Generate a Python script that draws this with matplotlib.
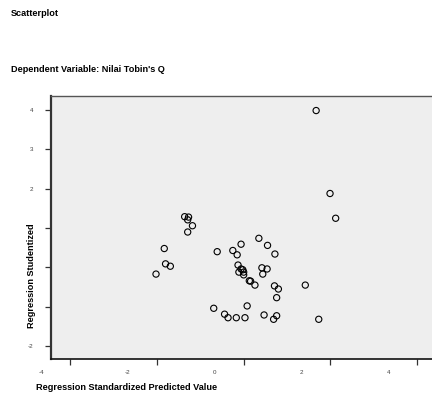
import matplotlib
matplotlib.use("Agg")
import matplotlib.pyplot as plt
from matplotlib.transforms import ScaledTranslation

predicted = [1.67, 1.99, 2.12, -1.36, -1.27, -1.29, -1.18, -1.29, -1.83, -1.80,
             -1.69, -2.02, -0.61, -0.25, -0.15, -0.06, 0.35, 0.55, 0.72, -0.13,
             -0.06, -0.02, -0.11, 0.00, 0.00, 0.42, 0.54, 0.44, 0.13, 0.16,
             0.26, 0.71, 0.80, 0.76, 1.42, -0.69, 0.08, -0.44, -0.36, -0.17,
             0.03, 0.47, 0.69, 0.76, 1.73]
residual = [3.99, 1.88, 1.25, 1.29, 1.28, 1.21, 1.06, 0.90, 0.48, 0.09,
            0.03, -0.17, 0.40, 0.43, 0.32, 0.59, 0.74, 0.56, 0.34, 0.06,
            -0.04, -0.06, -0.12, -0.12, -0.19, -0.01, -0.04, -0.17, -0.34, -0.35,
            -0.45, -0.47, -0.55, -0.77, -0.45, -1.04, -0.98, -1.19, -1.28, -1.28,
            -1.28, -1.21, -1.32, -1.23, -1.32]

xticks = [-4, -2, 0, 2, 4]
xtick_labels = ["-4", "-2", "0", "2", "4"]
yticks = [4, 3, 2, 1, 0, -1, -2]
ytick_labels = ["4", "3", "2", "", "", "", "-2"]

title_text = "Scatterplot"
subtitle_text = "Dependent Variable: Nilai Tobin's Q"
xlabel_text = "Regression Standardized Predicted Value"
ylabel_text = "Regression Studentized"

plt.rcParams['font.family'] = ['Liberation Sans', 'DejaVu Sans']

W, H = 432, 396
fig = plt.figure(figsize=(W / 100, H / 100), dpi=100)
fig.patch.set_facecolor("white")

left_px, right_px, top_px, bottom_px = 51, 432, 96, 359
ax = fig.add_axes([left_px / W, 1 - bottom_px / H,
                   (right_px - left_px) / W, (bottom_px - top_px) / H])
ax.set_facecolor("#eeeeee")

ax.scatter(predicted, residual, s=20, facecolors="none", edgecolors="black",
           linewidths=0.8, zorder=3)

ax.set_xlim(-4.44, 4.34)
ax.set_ylim(-2.33, 4.36)

ax.set_xticks(xticks)
ax.set_xticklabels(xtick_labels)
ax.set_yticks(yticks)
ax.set_yticklabels(ytick_labels)
ax.tick_params(axis="both", direction="out", length=4, width=0.9,
               color="#333333", labelsize=4.5, labelcolor="#444444")
ax.tick_params(axis="x", pad=4)
ax.tick_params(axis="y", pad=9)

offset = ScaledTranslation(-29 / 100, 0, fig.dpi_scale_trans)
for lab in ax.get_xticklabels():
    lab.set_transform(lab.get_transform() + offset)

ax.spines["right"].set_visible(False)
ax.spines["left"].set_color("#333333")
ax.spines["left"].set_linewidth(1.6)
ax.spines["top"].set_color("#555555")
ax.spines["top"].set_linewidth(1.0)
ax.spines["bottom"].set_color("#111111")
ax.spines["bottom"].set_linewidth(1.2)

fs = 6.6
fig.text(11 / W, 1 - 13 / H, title_text, fontsize=fs, fontweight="bold",
         ha="left", va="center")
fig.text(11 / W, 1 - 69 / H, subtitle_text, fontsize=fs, fontweight="bold",
         ha="left", va="center")
fig.text(36 / W, 1 - 387 / H, xlabel_text, fontsize=fs, fontweight="bold",
         ha="left", va="center")
fig.text(31 / W, 1 - 276 / H, ylabel_text, fontsize=fs, fontweight="bold",
         ha="center", va="center", rotation=90,
         bbox=dict(facecolor="white", edgecolor="none", pad=0.5))

fig.savefig("out.png", dpi=100)
